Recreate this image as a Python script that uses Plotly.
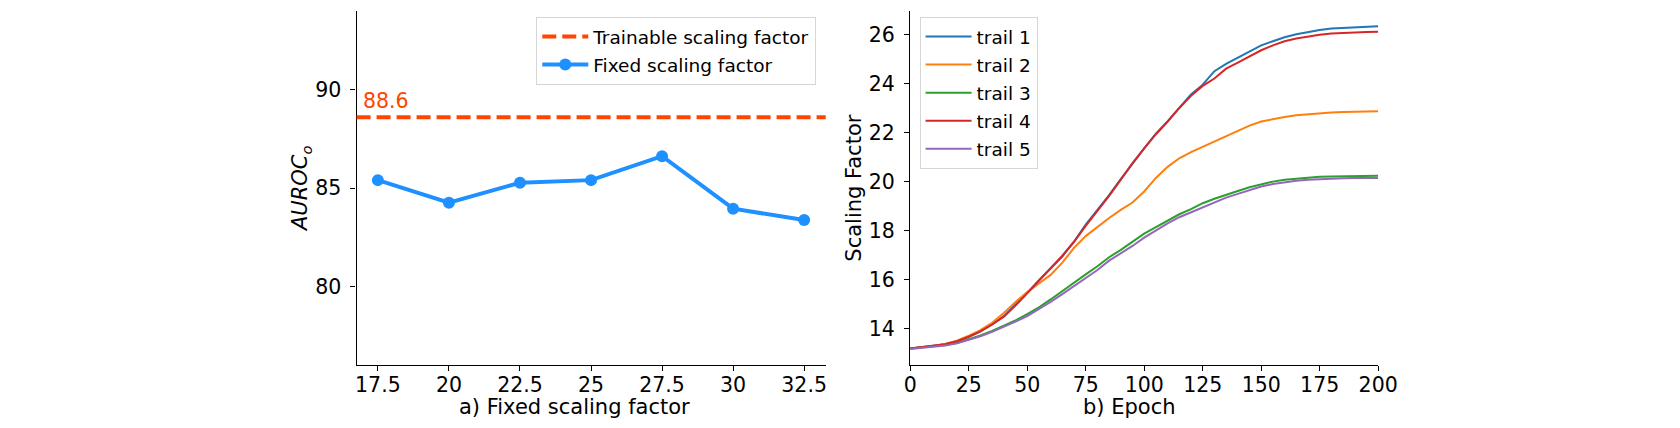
import plotly.graph_objects as go

# ---- data: panel a) ----
fixed_factors = [17.5, 20, 22.5, 25, 27.5, 30, 32.5]
fixed_tick_text = ["17.5", "20", "22.5", "25", "27.5", "30", "32.5"]
fixed_auroc = [85.4, 84.25, 85.27, 85.4, 86.62, 83.95, 83.37]
trainable_auroc = 88.6

# ---- data: panel b) ----
epochs = list(range(0, 201, 5))
trail_1 = [13.2, 13.25, 13.3, 13.38, 13.5, 13.68, 13.9, 14.18, 14.52, 14.98,
           15.48, 15.98, 16.45, 16.95, 17.55, 18.25, 18.85, 19.45, 20.1, 20.75,
           21.35, 21.95, 22.45, 23.0, 23.55, 23.95, 24.5, 24.8, 25.05, 25.3,
           25.55, 25.72, 25.88, 26.0, 26.1, 26.18, 26.24, 26.27, 26.3, 26.32, 26.33]
trail_2 = [13.2, 13.25, 13.3, 13.4, 13.52, 13.72, 13.95, 14.25, 14.65, 15.1,
           15.5, 15.85, 16.2, 16.7, 17.3, 17.78, 18.15, 18.52, 18.85, 19.15,
           19.6, 20.15, 20.6, 20.95, 21.2, 21.42, 21.65, 21.85, 22.08, 22.28,
           22.45, 22.55, 22.63, 22.7, 22.75, 22.79, 22.82, 22.84, 22.85, 22.86, 22.87]
trail_3 = [13.2, 13.24, 13.28, 13.34, 13.43, 13.57, 13.73, 13.92, 14.12, 14.35,
           14.6, 14.88, 15.2, 15.55, 15.9, 16.22, 16.55, 16.92, 17.22, 17.55,
           17.88, 18.15, 18.42, 18.67, 18.88, 19.12, 19.3, 19.47, 19.62, 19.77,
           19.9, 20.0, 20.08, 20.13, 20.17, 20.2, 20.21, 20.22, 20.23, 20.24, 20.24]
trail_4 = [13.2, 13.25, 13.3, 13.38, 13.5, 13.68, 13.9, 14.18, 14.5, 14.95,
           15.45, 15.98, 16.47, 16.98, 17.55, 18.2, 18.8, 19.42, 20.08, 20.75,
           21.35, 21.93, 22.45, 23.0, 23.5, 23.9, 24.2, 24.6, 24.85, 25.1,
           25.35, 25.55, 25.72, 25.83, 25.92, 25.98, 26.03, 26.06, 26.08, 26.09, 26.1]
trail_5 = [13.18, 13.22, 13.26, 13.32, 13.41, 13.54, 13.7, 13.88, 14.08, 14.3,
           14.52, 14.8, 15.1, 15.42, 15.75, 16.07, 16.4, 16.78, 17.08, 17.38,
           17.72, 18.02, 18.3, 18.55, 18.75, 18.98, 19.18, 19.35, 19.5, 19.66,
           19.8, 19.9, 19.98, 20.04, 20.08, 20.11, 20.13, 20.14, 20.15, 20.15, 20.15]
trail_names = ["trail 1", "trail 2", "trail 3", "trail 4", "trail 5"]
trail_colors = ["#1f77b4", "#ff7f0e", "#2ca02c", "#d62728", "#9467bd"]

# the page body has an 8px margin; keep the figure well inside the window
PAD = 8
W, H = 1640, 428 - 2 * PAD
FONT = "DejaVu Sans"


def px(x):
    # window pixel -> paper fraction
    return (x - PAD) / W


def py(y):
    return 1 - (y - PAD) / H


fig = go.Figure()

# panel a)
fig.add_trace(go.Scatter(
    x=[None], y=[None], mode="lines", name="Trainable scaling factor",
    line=dict(color="orangered", width=4, dash="14px,6px"),
    xaxis="x", yaxis="y", legend="legend", legendgroup="a1"))
fig.add_trace(go.Scatter(
    x=fixed_factors, y=fixed_auroc, mode="lines+markers", name="Fixed scaling factor",
    line=dict(color="dodgerblue", width=4),
    marker=dict(color="dodgerblue", size=12),
    xaxis="x", yaxis="y", legend="legend", legendgroup="a2"))
fig.add_shape(type="line", xref="x domain", yref="y", x0=0, x1=1,
              y0=trainable_auroc, y1=trainable_auroc,
              line=dict(color="orangered", width=4, dash="14px,6px"))

# panel b)
for name, vals, col in zip(trail_names, [trail_1, trail_2, trail_3, trail_4, trail_5], trail_colors):
    fig.add_trace(go.Scatter(
        x=epochs, y=vals, mode="lines", name=name,
        line=dict(color=col, width=2),
        xaxis="x2", yaxis="y2", legend="legend2", legendgroup=name))

axis_common = dict(
    showline=True, linecolor="black", linewidth=1.4, mirror=False,
    ticks="outside", ticklen=5, tickwidth=1.3, tickcolor="black",
    showgrid=False, zeroline=False,
    tickfont=dict(family=FONT, size=20.5, color="black"),
)

legend_common = dict(
    xanchor="left", yanchor="top",
    bgcolor="rgba(255,255,255,0.8)", bordercolor="#d6d6d6", borderwidth=1,
    font=dict(family=FONT, size=18.5, color="black"),
    itemwidth=46, traceorder="grouped", tracegroupgap=1,
)

fig.update_layout(
    width=W, height=H,
    margin=dict(l=0, r=0, t=0, b=0),
    paper_bgcolor="white", plot_bgcolor="white",
    font=dict(family=FONT, color="black"),
    showlegend=True,
    xaxis=dict(domain=[px(355.3), px(832.3)], range=[16.75, 33.26], ticklabelstandoff=-4,
               tickvals=fixed_factors, ticktext=fixed_tick_text, anchor="y", **axis_common),
    yaxis=dict(domain=[py(365), py(11)], range=[76, 94], ticklabelstandoff=5,
               tickvals=[80, 85, 90], anchor="x", **axis_common),
    xaxis2=dict(domain=[px(918.2), px(1394)], range=[0, 200], ticklabelstandoff=-4,
                tickvals=list(range(0, 201, 25)), anchor="y2", **axis_common),
    yaxis2=dict(domain=[py(365), py(11)], range=[12.53, 26.95], ticklabelstandoff=5,
                tickvals=list(range(14, 27, 2)), anchor="x2", **axis_common),
    legend=dict(x=px(538), y=py(17), **legend_common),
    legend2=dict(x=px(927.7), y=py(17), **legend_common),
)

# axis titles and the value label
label_font = dict(family=FONT, size=21, color="black")
fig.add_annotation(x=px(577), y=py(407), xref="paper", yref="paper",
                   xanchor="center", yanchor="middle",
                   text="a) Fixed scaling factor", showarrow=False, font=label_font)
fig.add_annotation(x=px(1141), y=py(407), xref="paper", yref="paper",
                   xanchor="center", yanchor="middle",
                   text="b) Epoch", showarrow=False, font=label_font)
fig.add_annotation(x=px(299.6), y=py(188.3), xref="paper", yref="paper",
                   xanchor="center", yanchor="middle",
                   text="<i>AUROC</i><sub><i>o</i></sub>", textangle=-90, showarrow=False,
                   font=label_font)
fig.add_annotation(x=px(861.4), y=py(188.3), xref="paper", yref="paper",
                   xanchor="center", yanchor="middle",
                   text="Scaling Factor", textangle=-90, showarrow=False, font=label_font)
fig.add_annotation(x=px(385.6), y=py(100.8), xref="paper", yref="paper",
                   xanchor="center", yanchor="middle",
                   text=str(trainable_auroc), showarrow=False,
                   font=dict(family=FONT, size=20.5, color="orangered"))

fig.write_html("out.html")
